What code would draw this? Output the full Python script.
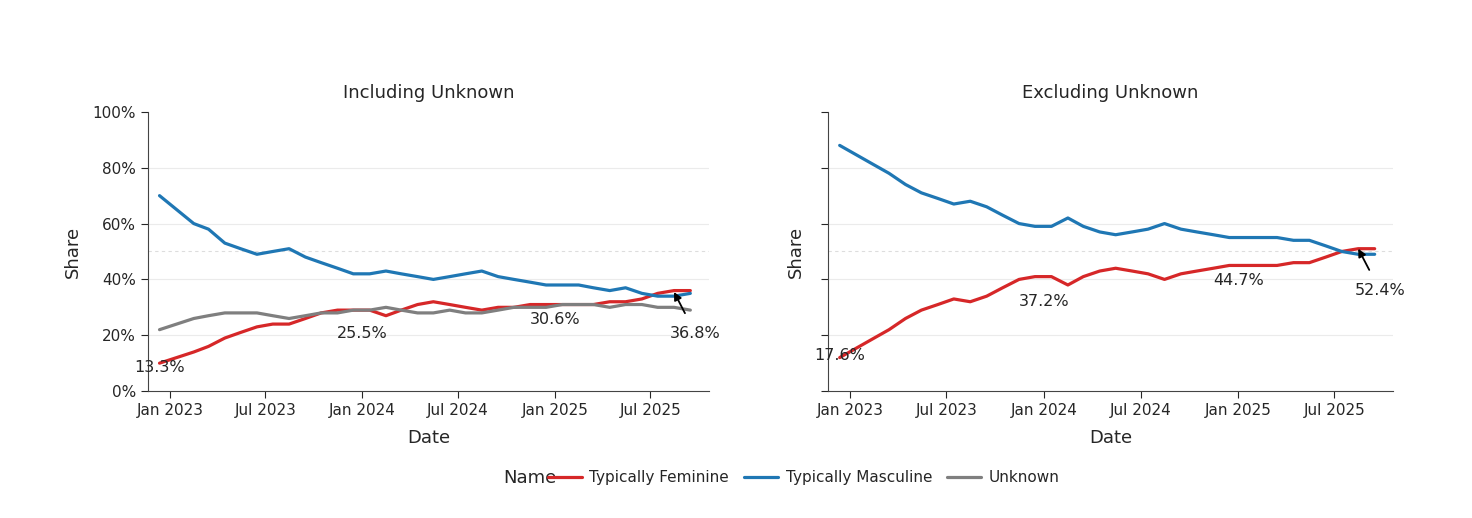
import numpy as np, pandas as pd, seaborn as sns, matplotlib
matplotlib.use("Agg")
import matplotlib.pyplot as plt
import matplotlib.dates as mdates

dates = pd.date_range("2022-12-15", periods=33, freq="MS") + pd.Timedelta(days=14)
dates = pd.to_datetime(["2022-12-12"]).append(dates[1:])
masc_incl = [70,60,58,53,51,49,50,51,48,46,44,42,42,43,42,41,40,41,42,43,41,40,39,38,38,38,37,36,37,35,34,34,35]
fem_incl = [10,14,16,19,21,23,24,24,26,28,29,29,29,27,29,31,32,31,30,29,30,30,31,31,31,31,31,32,32,33,35,36,36]
unk_incl = [22,26,27,28,28,28,27,26,27,28,28,29,29,30,29,28,28,29,28,28,29,30,30,30,31,31,31,30,31,31,30,30,29]
fem_excl = [12,19,22,26,29,31,33,32,34,37,40,41,41,38,41,43,44,43,42,40,42,43,44,45,45,45,45,46,46,48,50,51,51]
masc_excl = [100 - v for v in fem_excl]
names = ["Typically Feminine", "Typically Masculine", "Unknown"]
palette = {"Typically Feminine": "#d62728", "Typically Masculine": "#1f77b4", "Unknown": "#7f7f7f"}

def long(series):
    return pd.concat([pd.DataFrame({"Date": dates, "Share": v, "Name": n}) for n, v in series])

df_in = long([(names[0], fem_incl), (names[1], masc_incl), (names[2], unk_incl)])
df_ex = long([(names[0], fem_excl), (names[1], masc_excl)])

sns.set_style("white")
plt.rcParams["font.family"] = ["DejaVu Sans"]
fig = plt.figure(figsize=(14.72, 5.18), dpi=100)
ax1 = fig.add_axes([0.1005, 0.245, 0.381, 0.539])
ax2 = fig.add_axes([0.5625, 0.245, 0.384, 0.539])

annots = [
    [("2022-12-12", 13.3, "13.3%"), ("2024-01-01", 25.5, "25.5%"), ("2025-01-01", 30.6, "30.6%")],
    [("2022-12-12", 17.6, "17.6%"), ("2024-01-01", 37.2, "37.2%"), ("2025-01-01", 44.7, "44.7%")],
]
arrows = [(36.8, 35.5), (52.4, 51)]
for i, (ax, df, title) in enumerate([(ax1, df_in, "Including Unknown"), (ax2, df_ex, "Excluding Unknown")]):
    for y in [20, 40, 60, 80]:
        ax.axhline(y, color="#ebebeb", lw=0.8, zorder=0)
    ax.axhline(50, color="#dddddd", lw=0.8, ls=(0, (3, 3)), zorder=0)
    sns.lineplot(data=df, x="Date", y="Share", hue="Name", palette=palette, ax=ax, lw=2.3, legend=(i == 0))
    ax.set_ylim(0, 100)
    ax.set_xlim(pd.Timestamp("2022-11-20"), pd.Timestamp("2025-10-20"))
    ax.xaxis.set_major_locator(mdates.MonthLocator(bymonth=[1, 7]))
    ax.xaxis.set_major_formatter(mdates.DateFormatter("%b %Y"))
    ax.set_yticks(range(0, 101, 20))
    if i == 0:
        ax.set_yticklabels([f"{v}%" for v in range(0, 101, 20)])
    else:
        ax.set_yticklabels([])
    ax.tick_params(axis="both", length=5, direction="out", labelsize=11, left=True, bottom=True)
    for s in ["top", "right"]:
        ax.spines[s].set_visible(False)
    for s in ["left", "bottom"]:
        ax.spines[s].set_color("#444444")
    ax.set_title(title, fontsize=13, pad=10)
    ax.set_xlabel("Date", fontsize=13, labelpad=8)
    ax.set_ylabel("Share", fontsize=13, labelpad=8)
    for d, v, t in annots[i]:
        ax.text(pd.Timestamp(d), v - 5, t, ha="center", va="center", fontsize=11.5)
    tv, lv = arrows[i]
    ax.annotate(f"{tv}%", xy=(pd.Timestamp("2025-08-15"), lv), xytext=(pd.Timestamp("2025-09-25"), lv - 15),
                ha="center", va="center", fontsize=11.5,
                arrowprops=dict(arrowstyle="-|>", color="black", lw=1.3, shrinkA=8, shrinkB=0))

h, l = ax1.get_legend_handles_labels()
ax1.get_legend().remove()
fig.text(0.342, 0.078, "Name", fontsize=13, ha="left", va="center")
fig.legend(h, l, loc="center", bbox_to_anchor=(0.546, 0.078), ncol=3, frameon=False, fontsize=11,
           handlelength=2.2, columnspacing=1.0, handletextpad=0.5)
fig.savefig("out.png", dpi=100)
